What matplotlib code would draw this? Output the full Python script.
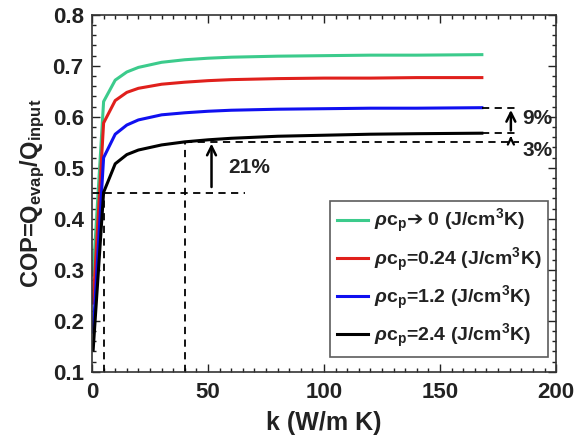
import matplotlib
matplotlib.use('Agg')
import matplotlib.pyplot as plt
from matplotlib.ticker import MultipleLocator

plt.rcParams['font.family'] = ['Liberation Sans', 'DejaVu Sans']
plt.rcParams['font.weight'] = 'bold'
plt.rcParams['mathtext.fontset'] = 'custom'
plt.rcParams['mathtext.rm'] = 'Liberation Sans:bold'
plt.rcParams['mathtext.bf'] = 'Liberation Sans:bold'
plt.rcParams['mathtext.it'] = 'Liberation Sans:italic:bold'
plt.rcParams['mathtext.sf'] = 'DejaVu Sans:bold'

# thermal conductivity (W/m K)
k = [0.5, 5, 10, 15, 20, 30, 40, 50, 60, 80, 100, 120, 140, 168]
# COP for each volumetric heat capacity
cop_0 = [0.29, 0.630, 0.672, 0.688, 0.697, 0.707, 0.712, 0.715, 0.717, 0.719, 0.720, 0.721, 0.721, 0.722]
cop_024 = [0.235, 0.588, 0.632, 0.648, 0.656, 0.664, 0.668, 0.671, 0.673, 0.675, 0.676, 0.676, 0.677, 0.677]
cop_12 = [0.178, 0.520, 0.566, 0.584, 0.594, 0.604, 0.608, 0.611, 0.613, 0.615, 0.616, 0.617, 0.617, 0.618]
cop_24 = [0.143, 0.452, 0.508, 0.526, 0.535, 0.545, 0.551, 0.555, 0.558, 0.562, 0.564, 0.566, 0.567, 0.568]

labels = [r'$\rho$c$_\mathrm{p}$$\mathsf{➔}$ 0 (J/cm$^\mathrm{3}$K)',
          r'$\rho$c$_\mathrm{p}$=0.24 (J/cm$^\mathrm{3}$K)',
          r'$\rho$c$_\mathrm{p}$=1.2 (J/cm$^\mathrm{3}$K)',
          r'$\rho$c$_\mathrm{p}$=2.4 (J/cm$^\mathrm{3}$K)']
colors = ['#3ccb8c', '#e0201c', '#1010f0', 'black']

fig = plt.figure(figsize=(5.86, 4.37), dpi=100)
ax = fig.add_axes([0.157, 0.149, 0.792, 0.817])

for y, c, lab in zip([cop_0, cop_024, cop_12, cop_24], colors, labels):
    ax.plot(k, y, color=c, lw=2.2, label=lab)

# guide lines
dash = dict(color='black', ls='--', lw=1.3, dashes=(4, 3))
ax.plot([0, 66], [0.45, 0.45], **dash)
ax.plot([5, 5], [0.1, 0.45], **dash)
ax.plot([40, 40], [0.1, 0.55], **dash)
ax.plot([40, 184], [0.55, 0.55], **dash)
ax.plot([168, 184], [0.568, 0.568], **dash)
ax.plot([168, 184], [0.618, 0.618], **dash)

arr = dict(arrowstyle='->', color='black', lw=1.8, mutation_scale=16)
ax.annotate('', xy=(51.5, 0.553), xytext=(51.5, 0.457), arrowprops=arr)
ax.annotate('', xy=(180.5, 0.619), xytext=(180.5, 0.568), arrowprops=arr)
ax.annotate('', xy=(180.5, 0.568), xytext=(180.5, 0.55),
            arrowprops=dict(arrowstyle='->', color='black', lw=1.6, mutation_scale=11))
ax.text(58.5, 0.50, '21%', fontsize=15, fontweight='bold', va='center', color='#222222')
ax.text(185.5, 0.596, '9%', fontsize=15, fontweight='bold', va='center', color='#222222')
ax.text(185.5, 0.535, '3%', fontsize=15, fontweight='bold', va='center', color='#222222')

ax.set_xlim(0, 200)
ax.set_ylim(0.1, 0.8)
ax.xaxis.set_minor_locator(MultipleLocator(5))
ax.yaxis.set_minor_locator(MultipleLocator(0.02))
ax.set_yticks([0.1, 0.2, 0.3, 0.4, 0.5, 0.6, 0.7, 0.8], ['0.1', '0.2', '0.3', '0.4', '0.5', '0.6', '0.7', '0.8'], fontweight='bold')
ax.set_xticks([0, 50, 100, 150, 200], ['0', '50', '100', '150', '200'], fontweight='bold')
ax.tick_params(which='both', direction='in', top=True, right=True, labelsize=16, colors='#222222')
ax.tick_params(which='major', length=6, width=1)
ax.tick_params(which='minor', length=3, width=1)
ax.tick_params(axis='x', pad=7)
ax.tick_params(axis='y', pad=6)
for s in ax.spines.values():
    s.set_linewidth(1.2)
    s.set_color('#333333')

ax.set_xlabel('k (W/m K)', fontsize=18, fontweight='bold', color='#222222', labelpad=6)
ax.set_ylabel(r'COP=Q$_\mathrm{evap}$/Q$_\mathrm{input}$', fontsize=17, fontweight='bold', color='#222222', labelpad=4)

leg = ax.legend(loc='lower right', bbox_to_anchor=(0.983, 0.042), fontsize=14, frameon=True, fancybox=False,
                edgecolor='#333333', handlelength=1.6, labelspacing=0.52, borderpad=0.35,
                handletextpad=0.3, borderaxespad=0)
leg.get_frame().set_linewidth(1.2)
for t in leg.get_texts():
    t.set_fontweight('bold')
    t.set_color('#222222')

fig.savefig('out.png', dpi=100)
